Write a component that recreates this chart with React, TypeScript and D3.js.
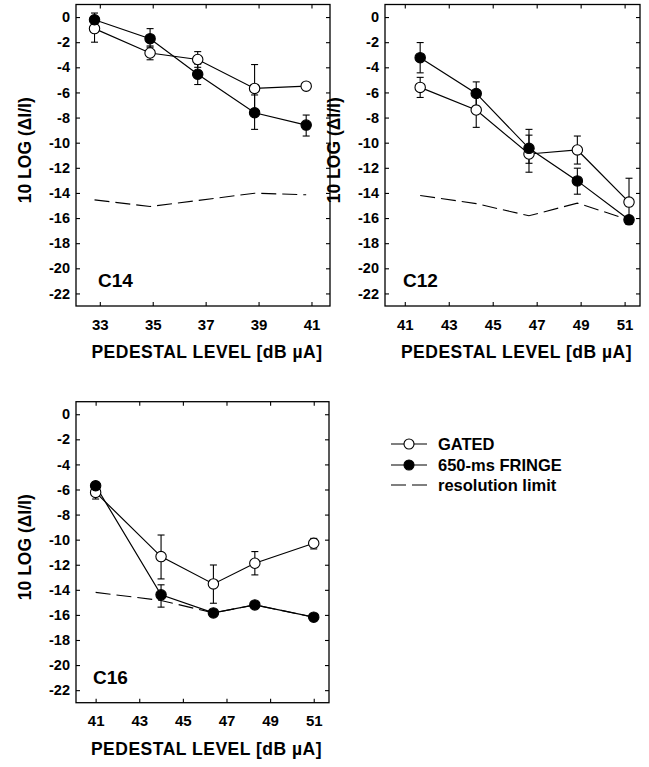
import React, {useRef, useEffect} from 'react';
import * as d3 from 'd3';

// values
const c14X = [32.8, 34.9, 36.7, 38.85, 40.8];
const c14Gated = [-0.92, -2.86, -3.38, -5.68, -5.5];
const c14GatedLo = [-2.0, -3.4, -4.0, -7.4, -5.7];
const c14GatedHi = [-0.3, -2.3, -2.75, -3.78, -5.3];
const c14Fringe = [-0.21, -1.72, -4.55, -7.62, -8.6];
const c14FringeLo = [-0.8, -2.4, -5.37, -8.94, -9.47];
const c14FringeHi = [0.32, -0.92, -3.75, -6.2, -7.8];
const c14Limit = [-14.55, -15.08, -14.6, -14.02, -14.15];

const c12X = [41.7, 44.25, 46.65, 48.85, 51.2];
const c12Gated = [-5.6, -7.4, -10.9, -10.58, -14.73];
const c12GatedLo = [-6.4, -8.78, -12.35, -11.7, -16.5];
const c12GatedHi = [-4.8, -6.0, -9.4, -9.47, -12.83];
const c12Fringe = [-3.23, -6.08, -10.45, -13.04, -16.14];
const c12FringeLo = [-4.44, -7.09, -11.64, -14.1, -16.45];
const c12FringeHi = [-2.03, -5.16, -8.94, -12.03, -15.85];
const c12Limit = [-14.2, -14.85, -15.82, -14.81, -16.14];

const c16X = [41.0, 44.0, 46.4, 48.3, 51.0];
const c16Gated = [-6.23, -11.35, -13.53, -11.88, -10.29];
const c16GatedLo = [-6.76, -13.13, -15.07, -12.81, -10.74];
const c16GatedHi = [-5.9, -9.63, -12.02, -10.95, -9.9];
const c16Fringe = [-5.7, -14.4, -15.84, -15.2, -16.18];
const c16FringeLo = [-6.0, -15.38, -16.1, -15.45, -16.45];
const c16FringeHi = [-5.4, -13.6, -15.6, -14.95, -15.9];
const c16Limit = [-14.2, -14.85, -15.84, -15.2, -16.18];

const yTicks = [0, -2, -4, -6, -8, -10, -12, -14, -16, -18, -20, -22];
const c14Ticks = [33, 35, 37, 39, 41];
const c12Ticks = [41, 43, 45, 47, 49, 51];
const legendLabels = ['GATED', '650-ms FRINGE', 'resolution limit'];

const FONT = "'Liberation Sans', Arial, Helvetica, sans-serif";

function drawPanel(svg, p){
    const x = d3.scaleLinear().domain(p.xDomain).range([p.left, p.right]);
    const y = d3.scaleLinear().domain([-23, 1]).range([p.bottom, p.top]);
    const g = svg.append('g');

// axes, ticks pointing inwards
    const styleAxis = (a, size) => {
        a.select('.domain').remove();
        a.selectAll('line').attr('stroke', '#000').attr('stroke-width', 1.1);
        a.selectAll('text').attr('fill', '#000').style('font-family', FONT)
            .style('font-weight', 'bold').style('font-size', size);
    };
    g.append('g').attr('transform', `translate(${p.left},0)`)
        .call(d3.axisLeft(y).tickValues(yTicks).tickSize(-4).tickPadding(6).tickFormat(d => String(d)))
        .call(styleAxis, '14.5px');
    g.append('g').attr('transform', `translate(${p.right},0)`)
        .call(d3.axisRight(y).tickValues(yTicks).tickSize(-4).tickFormat(() => ''))
        .call(styleAxis, '14px');
    g.append('g').attr('transform', `translate(0,${p.bottom})`)
        .call(d3.axisBottom(x).tickValues(p.xTicks).tickSize(-4).tickPadding(13).tickFormat(d => String(d)))
        .call(styleAxis, '15px');
    g.append('g').attr('transform', `translate(0,${p.top})`)
        .call(d3.axisTop(x).tickValues(p.xTicks).tickSize(-4).tickFormat(() => ''))
        .call(styleAxis, '14px');

    g.append('rect')
        .attr('x', p.left).attr('y', p.top)
        .attr('width', p.right - p.left).attr('height', p.bottom - p.top)
        .attr('fill', 'none').attr('stroke', '#000').attr('stroke-width', 1.3);

// titles
    g.append('text')
        .attr('transform', `translate(${p.left - 45},${(p.top + p.bottom) / 2 - 5}) rotate(-90)`)
        .attr('text-anchor', 'middle')
        .style('font-family', FONT).style('font-weight', 'bold').style('font-size', '17.5px')
        .text('10 LOG (ΔI/I)');
    g.append('text')
        .attr('x', (p.left + p.right) / 2 + 4).attr('y', p.bottom + 52)
        .attr('text-anchor', 'middle')
        .style('font-family', FONT).style('font-weight', 'bold').style('font-size', '17.5px')
        .style('letter-spacing', '0.5px')
        .text('PEDESTAL LEVEL [dB µA]');
    g.append('text')
        .attr('x', p.left + p.labelDx).attr('y', p.bottom - 19)
        .style('font-family', FONT).style('font-weight', 'bold').style('font-size', '19px')
        .text(p.name);

// resolution limit
    const line = d3.line().x(d => x(d[0])).y(d => y(d[1]));
    g.append('path')
        .attr('d', line(p.xs.map((v, i) => [v, p.limit[i]])))
        .attr('fill', 'none').attr('stroke', '#000').attr('stroke-width', 1.1)
        .attr('stroke-dasharray', '15,6');

    const series = [
        {vals: p.gated, lo: p.gatedLo, hi: p.gatedHi, fill: '#fff'},
        {vals: p.fringe, lo: p.fringeLo, hi: p.fringeHi, fill: '#000'},
    ];
    series.forEach(s => {
        g.append('path')
            .attr('d', line(p.xs.map((v, i) => [v, s.vals[i]])))
            .attr('fill', 'none').attr('stroke', '#000').attr('stroke-width', 1.2);
    });
    series.forEach(s => {
        const eb = g.append('g').selectAll('g').data(p.xs).enter().append('g');
        eb.append('line')
            .attr('x1', d => x(d)).attr('x2', d => x(d))
            .attr('y1', (d, i) => y(s.lo[i])).attr('y2', (d, i) => y(s.hi[i]))
            .attr('stroke', '#000').attr('stroke-width', 1.1);
        [s.lo, s.hi].forEach(arr => {
            eb.append('line')
                .attr('x1', d => x(d) - 3.5).attr('x2', d => x(d) + 3.5)
                .attr('y1', (d, i) => y(arr[i])).attr('y2', (d, i) => y(arr[i]))
                .attr('stroke', '#000').attr('stroke-width', 1.1);
        });
    });
    series.forEach(s => {
        g.append('g').selectAll('circle').data(p.xs).enter().append('circle')
            .attr('cx', d => x(d)).attr('cy', (d, i) => y(s.vals[i]))
            .attr('r', 5.2)
            .attr('fill', s.fill).attr('stroke', '#000').attr('stroke-width', 1.1);
    });
}

export default function App(){
    const ref = useRef(null);

    useEffect(() => {
        const svg = d3.select(ref.current);
        svg.selectAll('*').remove();

        drawPanel(svg, {name: 'C14', left: 76, right: 330, top: 4.5, bottom: 306, xDomain: [32.1, 41.7],
            xTicks: c14Ticks, xs: c14X, gated: c14Gated, gatedLo: c14GatedLo, gatedHi: c14GatedHi,
            fringe: c14Fringe, fringeLo: c14FringeLo, fringeHi: c14FringeHi, limit: c14Limit, labelDx: 22});
        drawPanel(svg, {name: 'C12', left: 385, right: 640, top: 4.5, bottom: 306, xDomain: [40.1, 51.7],
            xTicks: c12Ticks, xs: c12X, gated: c12Gated, gatedLo: c12GatedLo, gatedHi: c12GatedHi,
            fringe: c12Fringe, fringeLo: c12FringeLo, fringeHi: c12FringeHi, limit: c12Limit, labelDx: 18});
        drawPanel(svg, {name: 'C16', left: 76, right: 329, top: 401.7, bottom: 702.7, xDomain: [40.1, 51.7],
            xTicks: c12Ticks, xs: c16X, gated: c16Gated, gatedLo: c16GatedLo, gatedHi: c16GatedHi,
            fringe: c16Fringe, fringeLo: c16FringeLo, fringeHi: c16FringeHi, limit: c16Limit, labelDx: 17});

// legend
        const lg = svg.append('g');
        const rows = [444, 465, 485];
        legendLabels.forEach((label, i) => {
            const yy = rows[i];
            if (i < 2) {
                lg.append('line').attr('x1', 391).attr('x2', 427).attr('y1', yy).attr('y2', yy)
                    .attr('stroke', '#000').attr('stroke-width', 1.2);
                lg.append('circle').attr('cx', 409).attr('cy', yy).attr('r', 5)
                    .attr('fill', i === 0 ? '#fff' : '#000').attr('stroke', '#000').attr('stroke-width', 1.1);
            } else {
                lg.append('line').attr('x1', 391).attr('x2', 427).attr('y1', yy).attr('y2', yy)
                    .attr('stroke', '#000').attr('stroke-width', 1.1).attr('stroke-dasharray', '15,6');
            }
            lg.append('text').attr('x', 438).attr('y', yy + 5.5)
                .style('font-family', FONT).style('font-weight', 'bold').style('font-size', '16.5px')
                .text(label);
        });
    }, []);

    return(
        <svg ref={ref} width={649} height={767}
            style={{position: 'absolute', left: 0, top: 0, background: '#fff'}}/>
    );
}
